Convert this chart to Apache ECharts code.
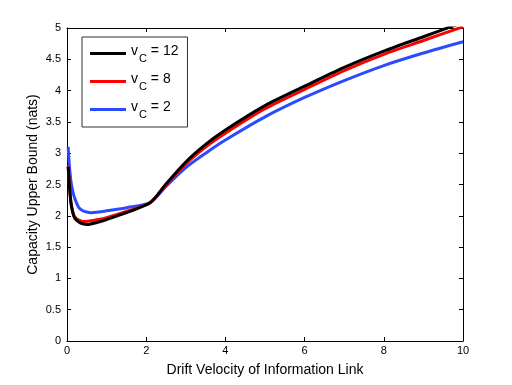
<!DOCTYPE html>
<html>
<head>
<meta charset="utf-8">
<script src="https://cdn.jsdelivr.net/npm/echarts@6/dist/echarts.min.js"></script>
<style>
  html, body { margin: 0; padding: 0; background: #fff; }
  #chart { width: 512px; height: 385px; }
</style>
</head>
<body>
<div id="chart"></div>
<script>
// drift velocity samples
var xVals = [0.03, 0.06, 0.1, 0.15, 0.2, 0.3, 0.4, 0.5, 0.6, 0.8, 1.0, 1.5, 2.1, 2.5, 3.0, 3.5, 4.0, 5.0, 6.0, 7.0, 8.0, 9.0, 10.0];
// capacity upper bound per vC
var vc12 = [2.78, 2.50, 2.20, 2.04, 1.96, 1.90, 1.87, 1.86, 1.87, 1.90, 1.94, 2.05, 2.21, 2.51, 2.86, 3.14, 3.37, 3.76, 4.07, 4.37, 4.63, 4.86, 5.09];
var vc8  = [2.80, 2.50, 2.22, 2.06, 1.98, 1.93, 1.91, 1.91, 1.92, 1.94, 1.97, 2.07, 2.21, 2.49, 2.83, 3.10, 3.32, 3.71, 4.02, 4.32, 4.58, 4.80, 5.02];
var vc2  = [3.10, 2.80, 2.55, 2.38, 2.27, 2.13, 2.08, 2.06, 2.05, 2.06, 2.08, 2.13, 2.21, 2.47, 2.77, 3.00, 3.21, 3.58, 3.89, 4.16, 4.40, 4.60, 4.78];
var legendNames = ['12', '8', '2'];

function pairs(ys) {
  return xVals.map(function (x, i) { return [x, ys[i]]; });
}

var font = 'Liberation Sans, Arial, sans-serif';
var chart = echarts.init(document.getElementById('chart'));

var option = {
  animation: false,
  grid: { left: 67, right: 49, top: 28, bottom: 44 },
  legend: {
    left: 82, top: 37,
    orient: 'vertical',
    data: legendNames,
    icon: 'rect',
    itemWidth: 36, itemHeight: 3,
    itemGap: 8,
    padding: [7, 9, 7, 8],
    backgroundColor: '#fff',
    borderColor: '#333', borderWidth: 1,
    borderRadius: 0,
    formatter: function (name) {
      return '{v|v}{s|C}{t| = ' + name + '}';
    },
    textStyle: {
      fontFamily: font,
      rich: {
        v: { fontFamily: font, fontSize: 14, color: '#000', lineHeight: 19, verticalAlign: 'top' },
        s: { fontFamily: font, fontSize: 11, color: '#000', lineHeight: 19, padding: [9, 0, 0, 1], verticalAlign: 'top' },
        t: { fontFamily: font, fontSize: 14, color: '#000', lineHeight: 19, verticalAlign: 'top' }
      }
    }
  },
  xAxis: [{
    type: 'value', min: 0, max: 10, interval: 2,
    name: 'Drift Velocity of Information Link',
    nameLocation: 'middle', nameGap: 22,
    nameTextStyle: { fontFamily: font, fontSize: 14, color: '#000' },
    axisLine: { lineStyle: { color: '#000', width: 1 } },
    axisTick: { inside: true, length: 4, lineStyle: { color: '#000' } },
    axisLabel: { fontFamily: font, fontSize: 11, color: '#000', margin: 4 },
    splitLine: { show: false }
  }, {
    type: 'value', min: 0, max: 10, interval: 2, position: 'top',
    axisLine: { show: true, onZero: false, lineStyle: { color: '#000', width: 1 } },
    axisTick: { inside: true, length: 4, lineStyle: { color: '#000' } },
    axisLabel: { show: false },
    splitLine: { show: false }
  }],
  yAxis: [{
    type: 'value', min: 0, max: 5, interval: 0.5,
    name: 'Capacity Upper Bound (nats)',
    nameLocation: 'middle', nameGap: 27, nameMoveOverlap: false,
    nameTextStyle: { fontFamily: font, fontSize: 14, color: '#000' },
    axisLine: { show: true, lineStyle: { color: '#000', width: 1 } },
    axisTick: { show: true, inside: true, length: 4, lineStyle: { color: '#000' } },
    axisLabel: { fontFamily: font, fontSize: 11, color: '#000', margin: 6 },
    splitLine: { show: false }
  }, {
    type: 'value', min: 0, max: 5, interval: 0.5, position: 'right',
    axisLine: { show: true, onZero: false, lineStyle: { color: '#000', width: 1 } },
    axisTick: { show: true, inside: true, length: 4, lineStyle: { color: '#000' } },
    axisLabel: { show: false },
    splitLine: { show: false }
  }],
  series: [
    { name: '2', type: 'line', data: pairs(vc2), showSymbol: false, smooth: 0.25,
      color: '#2b4bff', lineStyle: { width: 3, color: '#2b4bff' } },
    { name: '8', type: 'line', data: pairs(vc8), showSymbol: false, smooth: 0.25,
      color: '#ff0000', lineStyle: { width: 3, color: '#ff0000' } },
    { name: '12', type: 'line', data: pairs(vc12), showSymbol: false, smooth: 0.25,
      color: '#000000', lineStyle: { width: 3, color: '#000000' } }
  ]
};

chart.setOption(option);
</script>
</body>
</html>
